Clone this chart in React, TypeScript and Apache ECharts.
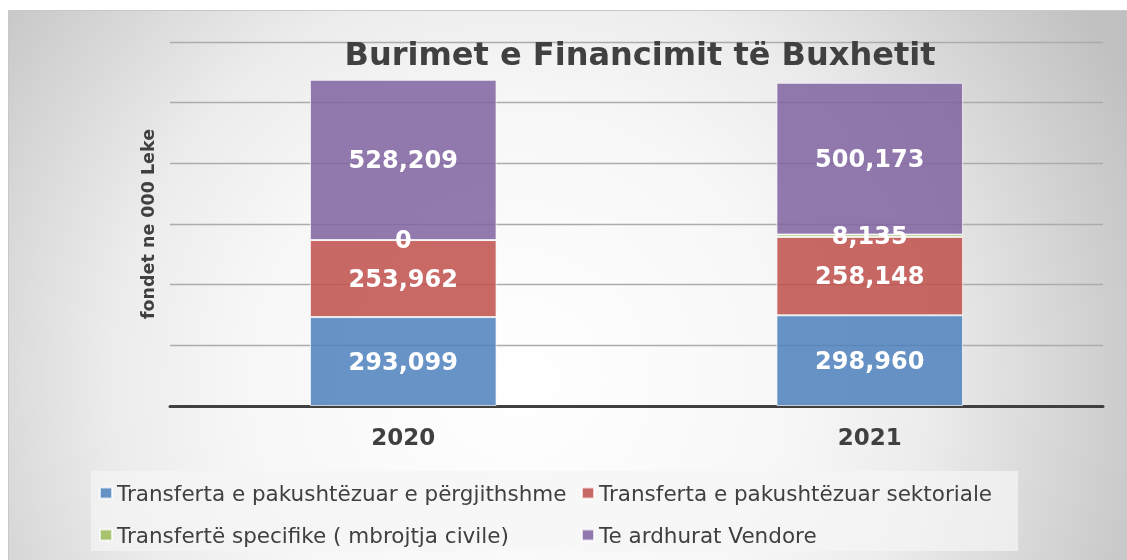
import React, { useEffect, useRef } from "react";
import * as echarts from "echarts";

const categories = ["2020", "2021"];
const seriesNames = [
  "Transferta e pakushtëzuar e përgjithshme",
  "Transferta e pakushtëzuar sektoriale",
  "Transfertë specifike ( mbrojtja civile)",
  "Te ardhurat Vendore",
];
const generalTransfer = [293099, 298960];
const sectorTransfer = [253962, 258148];
const specificTransfer = [0, 8135];
const localRevenue = [528209, 500173];
const seriesColors = ["rgba(79,129,189,0.86)", "rgba(192,80,77,0.86)", "rgba(155,187,89,0.86)", "rgba(128,100,162,0.86)"];
const legendColors = ["#4F81BD", "#C0504D", "#9BBB59", "#8064A2"];

const FONT = "DejaVu Sans, Verdana, sans-serif";

export default function App() {
  const ref = useRef<HTMLDivElement>(null);
  useEffect(() => {
    if (!ref.current) return;
    const chart = echarts.init(ref.current, null, { renderer: "svg" });
    const values = [generalTransfer, sectorTransfer, specificTransfer, localRevenue];
    const series = values.map((d, i) => ({
      name: seriesNames[i],
      type: "bar",
      stack: "total",
      barWidth: "40%",
      data: d,
      itemStyle: { color: seriesColors[i], borderColor: "rgba(255,255,255,0.7)", borderWidth: 1 },
      label: {
        show: true,
        position: "inside",
        color: "#ffffff",
        fontFamily: FONT,
        fontWeight: "bold",
        fontSize: 24,
        formatter: (p: any) => Number(p.value).toLocaleString("en-US"),
      },
    }));
    const legendText = { fontFamily: FONT, fontSize: 21.5, lineHeight: 24, color: "#404040" };
    chart.setOption({
      animation: false,
      color: legendColors,
      graphic: [
        {
          type: "rect",
          z: -10,
          silent: true,
          shape: { x: 8.5, y: 10.5, width: 1130, height: 560 },
          style: {
            fill: new echarts.graphic.RadialGradient(520, 380, 680, [
              { offset: 0, color: "#ffffff" },
              { offset: 0.4, color: "#f7f7f7" },
              { offset: 0.6, color: "#ececec" },
              { offset: 0.8, color: "#d6d6d6" },
              { offset: 1, color: "#c0c0c0" },
            ], true),
            stroke: "#c8c8c8",
            lineWidth: 1,
          },
        },
        {
          type: "rect",
          z: -5,
          silent: true,
          shape: { x: 91, y: 471, width: 927, height: 80 },
          style: { fill: "rgba(245,245,245,0.7)" },
        },
      ],
      title: {
        text: "Burimet e Financimit të Buxhetit",
        left: 635,
        textAlign: "center",
        top: 33,
        textStyle: { fontFamily: FONT, fontWeight: "bold", fontSize: 32, color: "#404040" },
      },
      legend: [
        {
          orient: "vertical",
          left: 99,
          top: 481,
          padding: 0,
          itemWidth: 12,
          itemHeight: 11,
          itemGap: 18,
          icon: "rect",
          data: [seriesNames[0], seriesNames[2]],
          textStyle: legendText,
        },
        {
          orient: "vertical",
          left: 581,
          top: 481,
          padding: 0,
          itemWidth: 12,
          itemHeight: 11,
          itemGap: 18,
          icon: "rect",
          data: [seriesNames[1], seriesNames[3]],
          textStyle: legendText,
        },
      ],
      grid: { left: 170, right: 24, top: 42, bottom: 154, containLabel: false },
      xAxis: {
        type: "category",
        data: categories,
        axisLine: { lineStyle: { color: "#404040", width: 3 } },
        axisTick: { show: false },
        axisLabel: { fontFamily: FONT, fontWeight: "bold", fontSize: 23, color: "#404040", margin: 19 },
      },
      yAxis: {
        type: "value",
        min: 0,
        max: 1200000,
        interval: 200000,
        name: "fondet ne 000 Leke",
        nameLocation: "middle",
        nameGap: 13,
        nameRotate: 90,
        nameTextStyle: { fontFamily: FONT, fontWeight: "bold", fontSize: 17.5, color: "#404040" },
        axisLabel: { show: false },
        axisLine: { show: false },
        axisTick: { show: false },
        splitLine: { lineStyle: { color: "#acacac", width: 1.3 } },
      },
      series,
    });
    return () => chart.dispose();
  }, []);
  return (
    <div
      ref={ref}
      style={{ position: "fixed", left: 0, top: 0, width: 1127, height: 560 }}
    />
  );
}
